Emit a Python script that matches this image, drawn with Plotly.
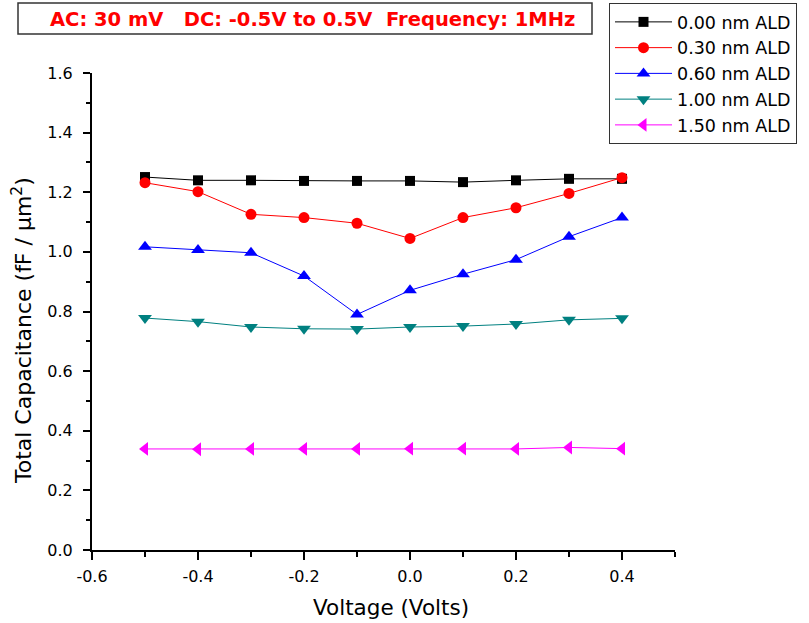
import plotly.graph_objects as go

voltage = [-0.5, -0.4, -0.3, -0.2, -0.1, 0.0, 0.1, 0.2, 0.3, 0.4]
ald_000 = [1.251, 1.240, 1.240, 1.238, 1.238, 1.238, 1.234, 1.240, 1.245, 1.245]
ald_030 = [1.232, 1.202, 1.126, 1.115, 1.096, 1.045, 1.115, 1.148, 1.196, 1.249]
ald_060 = [1.017, 1.006, 0.997, 0.919, 0.790, 0.871, 0.925, 0.974, 1.051, 1.115]
ald_100 = [0.778, 0.766, 0.748, 0.742, 0.741, 0.748, 0.751, 0.758, 0.772, 0.777]
ald_150 = [0.339, 0.338, 0.339, 0.339, 0.339, 0.340, 0.340, 0.339, 0.344, 0.340]

x_tickvals = [-0.6, -0.4, -0.2, 0.0, 0.2, 0.4]
x_ticktext = ["-0.6", "-0.4", "-0.2", "0.0", "0.2", "0.4"]
y_tickvals = [0.0, 0.2, 0.4, 0.6, 0.8, 1.0, 1.2, 1.4, 1.6]
y_ticktext = ["0.0", "0.2", "0.4", "0.6", "0.8", "1.0", "1.2", "1.4", "1.6"]

series = [
    ("0.00 nm ALD", ald_000, "#000000", "square", 10),
    ("0.30 nm ALD", ald_030, "#FF0000", "circle", 11),
    ("0.60 nm ALD", ald_060, "#0000FF", "triangle-up", 12),
    ("1.00 nm ALD", ald_100, "#008080", "triangle-down", 12),
    ("1.50 nm ALD", ald_150, "#FF00FF", "triangle-left", 12),
]

fig = go.Figure()
for name, ys, color, sym, sz in series:
    fig.add_trace(go.Scatter(
        x=voltage, y=ys, name=name, mode="lines+markers",
        line=dict(color=color, width=1),
        marker=dict(symbol=sym, size=sz, color=color),
    ))

font_main = "DejaVu Sans, Liberation Sans, Arial, sans-serif"

L, R, T, B = 92, 134, 73, 73
W, H = 809, 623
pw, ph = W - L - R, H - T - B


def px_x(px):
    return (px - L) / pw


def px_y(py):
    return (H - B - py) / ph


fig.update_layout(
    width=W, height=H,
    margin=dict(l=L, r=R, t=T, b=B, autoexpand=False),
    plot_bgcolor="white", paper_bgcolor="white",
    font=dict(family=font_main, color="black"),
    showlegend=True,
    legend=dict(
        xref="container", yref="container",
        x=609 / W, y=1 - 3 / H, xanchor="left", yanchor="top",
        bordercolor="#333333", borderwidth=1, bgcolor="white",
        font=dict(size=17.5, family=font_main),
        tracegroupgap=0, itemwidth=57,
    ),
    xaxis=dict(
        range=[-0.6, 0.5], tickvals=x_tickvals, ticktext=x_ticktext, automargin=False,
        showgrid=False, zeroline=False, showline=True, linecolor="black", linewidth=2,
        ticks="outside", ticklen=8, tickwidth=2, tickcolor="black",
        minor=dict(dtick=0.1, tick0=-0.6, ticks="outside", ticklen=5, tickwidth=2, tickcolor="black", showgrid=False),
        tickfont=dict(size=16), ticklabelstandoff=3,
    ),
    yaxis=dict(
        range=[0, 1.6], tickvals=y_tickvals, ticktext=y_ticktext, automargin=False,
        showgrid=False, zeroline=False, showline=True, linecolor="black", linewidth=2,
        ticks="outside", ticklen=7, tickwidth=2, tickcolor="black",
        minor=dict(dtick=0.1, tick0=0, ticks="outside", ticklen=4, tickwidth=2, tickcolor="black", showgrid=False),
        tickfont=dict(size=16), ticklabelstandoff=7,
    ),
    shapes=[dict(
        type="rect", xref="paper", yref="paper",
        x0=px_x(18), x1=px_x(592), y0=px_y(34), y1=px_y(3),
        line=dict(color="#333333", width=1.5), fillcolor="white", layer="below",
    )],
    annotations=[
        dict(
            text="<b>AC: 30 mV   DC: -0.5V to 0.5V  Frequency: 1MHz</b>",
            xref="paper", yref="paper", x=px_x(312), y=px_y(19),
            xanchor="center", yanchor="middle", showarrow=False,
            font=dict(size=19.5, color="#FF0000", family=font_main),
        ),
        dict(
            text="Voltage (Volts)",
            xref="paper", yref="paper", x=px_x(391), y=px_y(607),
            xanchor="center", yanchor="middle", showarrow=False,
            font=dict(size=21.5, family=font_main),
        ),
        dict(
            text="Total Capacitance (fF / µm<sup>2</sup>)",
            xref="paper", yref="paper", x=px_x(22), y=px_y(331),
            xanchor="center", yanchor="middle", showarrow=False, textangle=-90,
            font=dict(size=22, family=font_main),
        ),
    ],
)

fig.write_html("out.html", config={"displayModeBar": False},
               post_script="document.body.style.margin='0px';")
